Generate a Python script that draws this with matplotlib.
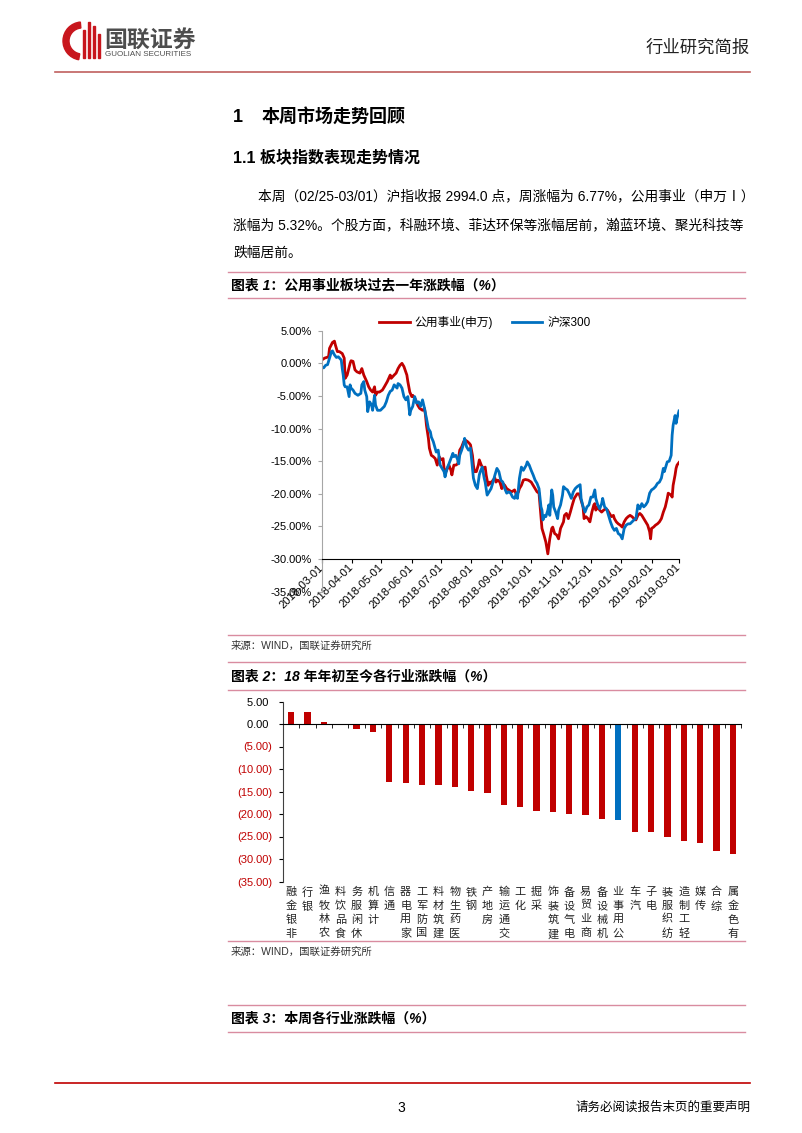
"""
行业研究简报 第3页：本周市场走势回顾
"""

import numpy as np
import pandas as pd
import matplotlib
matplotlib.use('Agg')
import matplotlib.pyplot as plt
import matplotlib.dates as mdates
import matplotlib.transforms as mtransforms
from matplotlib.patches import Wedge, Rectangle

plt.rcParams['font.family'] = ['Liberation Sans', 'Noto Sans CJK SC']
plt.rcParams['axes.unicode_minus'] = False

# ---------------- 图表1：公用事业 vs 沪深300 (自 2018-03-01 起天数, 涨跌幅%) ----------------
start_date = '2018-03-01'
util_days = [0, 3, 7, 8, 11, 13, 14, 16, 18, 21, 23, 24, 26, 29, 30, 32, 34, 36, 39, 41,
             43, 46, 48, 50, 52, 54, 55, 57, 59, 62, 64, 67, 70, 71, 74, 76, 78, 80, 82, 84,
             87, 88, 90, 92, 93, 96, 98, 100, 103, 105, 106, 107, 109, 110, 112, 114, 116, 118, 120, 122,
             124, 125, 127, 130, 132, 133, 135, 137, 139, 141, 143, 145, 147, 149, 151, 152, 154, 155, 156, 158,
             160, 161, 163, 165, 167, 168, 170, 172, 173, 175, 177, 178, 180, 182, 184, 185, 187, 189, 191, 194,
             197, 199, 201, 202, 204, 206, 208, 211, 214, 216, 218, 220, 222, 223, 224, 225, 227, 229, 231, 233,
             235, 236, 238, 240, 242, 244, 247, 248, 250, 252, 254, 256, 258, 261, 263, 265, 267, 268, 270, 272,
             274, 276, 278, 279, 280, 282, 284, 286, 288, 290, 292, 294, 296, 298, 299, 301, 303, 305, 307, 309,
             311, 313, 315, 317, 319, 321, 323, 325, 327, 329, 331, 333, 335, 336, 337, 339, 341, 343, 345, 347,
             349, 351, 353, 354, 357, 358, 359, 361, 362, 363, 365]
util_pct = [0.5, 0.8, 1.0, 2.3, 3.2, 3.4, 2.8, 1.8, 1.8, 1.5, 0.8, -2.3, -1.8, 0.0, 0.4, 0.3, -1.0, -1.3, -1.5, -0.8,
            -1.8, -2.8, -3.6, -4.1, -4.4, -3.6, -4.9, -4.4, -4.4, -4.1, -3.6, -2.8, -1.8, -2.3, -1.8, -1.5, -0.8, -0.3, 0.0, -0.5,
            -1.8, -2.8, -4.4, -5.1, -4.9, -5.6, -6.4, -6.9, -7.2, -6.9, -7.9, -9.5, -11.5, -13.0, -14.1, -14.3, -14.6, -15.6, -14.3, -14.8,
            -14.6, -16.1, -16.6, -15.6, -16.4, -17.1, -15.6, -15.6, -15.4, -13.3, -12.8, -12.0, -11.8, -12.0, -12.3, -12.5, -14.1, -15.6, -16.6, -16.6,
            -15.6, -14.8, -15.6, -16.1, -15.9, -17.1, -18.7, -18.2, -18.4, -17.9, -17.6, -18.2, -17.9, -18.2, -19.2, -18.4, -18.7, -19.2, -19.4, -19.7,
            -19.4, -20.2, -19.7, -19.2, -18.7, -17.9, -17.8, -17.9, -18.2, -18.7, -19.2, -19.7, -19.9, -21.7, -23.5, -25.3, -26.3, -27.4, -29.2, -26.9,
            -25.3, -25.1, -26.1, -26.3, -26.9, -25.3, -24.3, -23.3, -23.0, -23.8, -22.8, -21.7, -20.7, -20.0, -20.0, -21.0, -22.0, -23.8, -23.5, -23.8,
            -24.3, -22.8, -21.7, -21.5, -22.5, -22.0, -22.5, -22.8, -22.5, -22.3, -22.5, -23.0, -23.5, -23.3, -23.8, -24.3, -24.6, -24.8, -25.1, -24.3,
            -23.8, -23.5, -23.3, -23.5, -23.8, -24.0, -23.3, -23.0, -23.3, -23.8, -24.3, -24.8, -25.8, -26.9, -25.3, -25.1, -24.8, -24.6, -24.3, -23.8,
            -22.8, -22.0, -20.7, -19.9, -20.2, -20.5, -18.7, -17.1, -16.1, -15.6, -15.2]

hs300_days = [0, 2, 4, 6, 8, 10, 11, 13, 15, 17, 20, 21, 22, 23, 24, 26, 28, 29, 30, 32,
              34, 37, 40, 41, 43, 44, 46, 47, 49, 51, 52, 54, 55, 57, 60, 62, 64, 66, 68, 70,
              72, 74, 77, 78, 80, 82, 84, 86, 88, 90, 91, 93, 95, 97, 99, 101, 103, 105, 106, 107,
              109, 111, 112, 114, 117, 119, 121, 123, 125, 126, 128, 130, 132, 134, 135, 137, 139, 140, 141, 143,
              145, 146, 148, 150, 152, 154, 155, 157, 159, 161, 162, 164, 166, 167, 169, 171, 173, 175, 177, 179,
              181, 183, 185, 187, 189, 191, 193, 195, 197, 199, 200, 202, 204, 206, 209, 210, 212, 214, 216, 218,
              220, 222, 224, 225, 226, 228, 229, 231, 232, 233, 235, 236, 237, 239, 241, 242, 244, 246, 247, 249,
              251, 253, 255, 257, 259, 261, 263, 264, 265, 267, 269, 271, 273, 275, 277, 279, 280, 282, 284, 286,
              287, 289, 291, 293, 295, 297, 299, 301, 303, 305, 307, 309, 311, 313, 315, 317, 319, 321, 323, 325,
              327, 329, 331, 333, 335, 337, 339, 341, 343, 345, 347, 349, 350, 352, 353, 355, 357, 358, 359, 361,
              362, 363, 365]
hs300_pct = [-0.5, -0.7, -0.3, -0.2, 0.8, 1.8, 1.9, 1.3, 0.9, 1.0, 0.5, -0.8, -1.8, -3.3, -3.6, -3.6, -5.1, -3.3, -3.8, -4.1,
             -4.6, -4.9, -4.6, -3.3, -2.8, -4.1, -5.1, -7.4, -5.9, -6.4, -7.2, -4.9, -6.4, -7.2, -7.2, -6.9, -6.6, -5.9, -4.9, -4.3,
             -4.1, -3.3, -3.8, -3.1, -3.3, -3.8, -5.1, -5.6, -5.1, -7.9, -7.2, -6.6, -5.1, -6.1, -5.9, -6.6, -5.6, -6.9, -7.7, -8.4,
             -10.0, -10.5, -11.3, -12.0, -13.6, -13.3, -15.6, -16.1, -16.6, -17.4, -16.1, -15.4, -14.6, -13.8, -14.3, -14.1, -14.8, -15.4, -14.1, -13.3,
             -12.3, -11.5, -12.8, -13.3, -13.0, -16.1, -17.6, -18.7, -19.2, -17.1, -16.6, -15.9, -17.6, -18.2, -20.2, -19.7, -19.2, -18.2, -17.1, -16.1,
             -16.6, -17.9, -18.2, -19.2, -19.9, -19.7, -19.9, -20.5, -20.7, -19.9, -20.7, -17.6, -15.9, -16.4, -15.6, -15.1, -15.6, -16.4, -17.1, -17.9,
             -18.4, -19.2, -22.0, -22.5, -24.0, -23.3, -23.5, -22.5, -21.7, -23.3, -19.4, -20.2, -22.0, -22.8, -23.8, -22.5, -21.7, -20.2, -18.9, -19.2,
             -19.4, -20.0, -20.7, -19.7, -19.2, -18.9, -18.7, -18.6, -20.7, -22.0, -22.8, -22.0, -21.7, -20.5, -20.5, -19.4, -20.7, -21.7, -22.3, -21.5,
             -20.7, -22.0, -22.3, -23.3, -24.3, -25.1, -25.6, -25.3, -26.1, -26.3, -26.9, -25.3, -24.8, -24.6, -24.6, -24.3, -24.0, -23.8, -21.7, -22.3,
             -21.5, -22.0, -21.7, -21.2, -19.9, -19.4, -19.2, -18.9, -18.4, -18.2, -17.6, -16.1, -16.6, -15.6, -15.1, -15.0, -14.1, -11.0, -9.5, -8.0,
             -9.2, -8.4, -7.3]

# ---------------- 图表2：18年年初至今各行业涨跌幅 ----------------
industries = ['非银金融', '银行', '农林牧渔', '食品饮料', '休闲服务', '计算机', '通信', '家用电器',
              '国防军工', '建筑材料', '医药生物', '钢铁', '房地产', '交通运输', '化工', '采掘',
              '建筑装饰', '电气设备', '商业贸易', '机械设备', '公用事业', '汽车', '电子', '纺织服装',
              '轻工制造', '传媒', '综合', '有色金属']
ytd_pct = [2.7, 2.7, 0.35, -0.3, -1.1, -1.8, -12.8, -13.0,
           -13.6, -13.6, -14.1, -14.8, -15.3, -18.0, -18.5, -19.3,
           -19.6, -19.9, -20.2, -21.1, -21.3, -23.9, -23.9, -25.2,
           -26.0, -26.4, -28.2, -28.9]
highlight = '公用事业'

RED = '#C00000'
BLUE = '#0070C0'
PINK = '#D98CA0'
W, H = 802, 1133


def fx(x):
    return x / W


def fy(y):
    return 1 - y / H


fig = plt.figure(figsize=(8.02, 11.33), dpi=100)

# 页面底层：像素坐标
bg = fig.add_axes([0, 0, 1, 1])
bg.set_xlim(0, W)
bg.set_ylim(H, 0)
bg.axis('off')

# 页眉 logo
bg.add_patch(Wedge((82, 41), 19, 100, 265, width=6, color='#C8161D'))
for bx, top in [(83, 30), (88, 22), (93, 26), (98, 34)]:
    bg.add_patch(Rectangle((bx, top), 2.2, 58 - top, color='#C8161D'))
bg.text(104, 40, '国联证券', fontsize=16.5, color='#4D4D4D', fontweight='bold', va='center')
bg.text(105, 54, 'GUOLIAN SECURITIES', fontsize=5.8, color='#4D4D4D', va='center')
bg.text(750, 48, '行业研究简报', fontsize=12.5, ha='right', va='center', color='#222222')
bg.plot([55, 750], [72, 72], color='#C0605F', lw=1.2)

# 正文
bg.text(233, 117, '1', fontsize=13, fontweight='bold', va='center')
bg.text(262, 117, '本周市场走势回顾', fontsize=13, fontweight='bold', va='center')
bg.text(233, 157, '1.1 板块指数表现走势情况', fontsize=11.5, fontweight='bold', va='center')
bg.text(258, 196, '本周（02/25-03/01）沪指收报 2994.0 点，周涨幅为 6.77%，公用事业（申万Ⅰ）',
        fontsize=9.9, va='center')
bg.text(233, 225, '涨幅为 5.32%。个股方面，科融环境、菲达环保等涨幅居前，瀚蓝环境、聚光科技等',
        fontsize=9.9, va='center')
bg.text(233, 253, '跌幅居前。', fontsize=9.9, va='center')

# 图表标题框
for yy in [272, 298, 635, 662, 690, 941, 1005, 1032]:
    bg.plot([228, 745], [yy, yy], color=PINK, lw=1.0)
bg.text(231, 285, '图表 1：公用事业板块过去一年涨跌幅（%）', fontsize=10, fontweight='bold',
        style='italic', va='center')
bg.text(231, 676, '图表 2：18 年年初至今各行业涨跌幅（%）', fontsize=10, fontweight='bold',
        style='italic', va='center')
bg.text(231, 1019, '图表 3：本周各行业涨跌幅（%）', fontsize=10, fontweight='bold',
        style='italic', va='center')
bg.text(231, 646, '来源：WIND，国联证券研究所', fontsize=7.5, color='#333333', va='center')
bg.text(231, 952, '来源：WIND，国联证券研究所', fontsize=7.5, color='#333333', va='center')

# 页脚
bg.plot([55, 750], [1083, 1083], color=RED, lw=1.2)
bg.text(401, 1108, '3', fontsize=10, ha='center', va='center')
bg.text(750, 1108, '请务必阅读报告末页的重要声明', fontsize=9, ha='right', va='center')

# ---------------- 图表1 ----------------
ax1 = fig.add_axes([fx(321.7), fy(591.7), fx(679) - fx(321.7), fy(330.7) - fy(591.7)])
t0 = pd.Timestamp(start_date)
d_util = t0 + pd.to_timedelta(util_days, unit='D')
d_hs = t0 + pd.to_timedelta(hs300_days, unit='D')
ax1.plot(d_util, util_pct, color=RED, lw=2.0, label='公用事业(申万)')
ax1.plot(d_hs, hs300_pct, color=BLUE, lw=2.0, label='沪深300')
ax1.set_xlim(t0, pd.Timestamp('2019-03-01'))
ax1.set_ylim(-35, 5)
ax1.set_facecolor('none')
for s in ['top', 'right']:
    ax1.spines[s].set_visible(False)
ax1.spines['left'].set_color('#A6A6A6')
ax1.spines['bottom'].set_position(('data', -30))
ax1.spines['bottom'].set_color('black')
yt = np.arange(-35, 6, 5)
ax1.set_yticks(yt)
ax1.set_yticklabels([f'{v:.2f}%' for v in yt])
ax1.xaxis.set_major_locator(mdates.MonthLocator())
ax1.xaxis.set_major_formatter(mdates.DateFormatter('%Y-%m-%d'))
ax1.tick_params(axis='y', length=3, color='#A6A6A6', labelsize=8, pad=4)
ax1.tick_params(axis='x', length=3, labelsize=8, pad=2)
plt.setp(ax1.get_xticklabels(), rotation=45, ha='right', va='center', rotation_mode='anchor')
ax1.legend(loc='center', bbox_to_anchor=(0.456, 1.03), ncol=2, frameon=False, fontsize=8.5,
           handlelength=2.6, handletextpad=0.4, columnspacing=1.6)

# ---------------- 图表2 ----------------
ax2 = fig.add_axes([fx(283), fy(881.5), fx(741) - fx(283), fy(701.5) - fy(881.5)])
xs = np.arange(len(industries))
bar_colors = [BLUE if n == highlight else RED for n in industries]
ax2.bar(xs, ytd_pct, width=0.38, color=bar_colors)
ax2.set_xlim(-0.5, len(industries) - 0.5)
ax2.set_ylim(-35, 5)
ax2.set_facecolor('none')
for s in ['top', 'right']:
    ax2.spines[s].set_visible(False)
ax2.spines['bottom'].set_position(('data', 0))
ax2.spines['left'].set_color('#404040')
ax2.set_xticks([])
ax2.set_xticks(np.arange(-0.5, len(industries), 1), minor=True)
ax2.tick_params(axis='x', which='minor', length=3, direction='out')
yt2 = np.arange(-35, 6, 5)
ax2.set_yticks(yt2)
ax2.set_yticklabels([f'{v:.2f} ' if v >= 0 else f'({abs(v):.2f})' for v in yt2])
for lbl, v in zip(ax2.get_yticklabels(), yt2):
    if v < 0:
        lbl.set_color(RED)
ax2.tick_params(axis='y', length=3, labelsize=8, pad=5)
trans = mtransforms.blended_transform_factory(ax2.transData, ax2.transAxes)
for i, name in enumerate(industries):
    ax2.text(i, -0.03, '\n'.join(reversed(name)), transform=trans, ha='center', va='top',
             fontsize=8, linespacing=1.45, color='#222222')

fig.savefig('out.png', dpi=100)
